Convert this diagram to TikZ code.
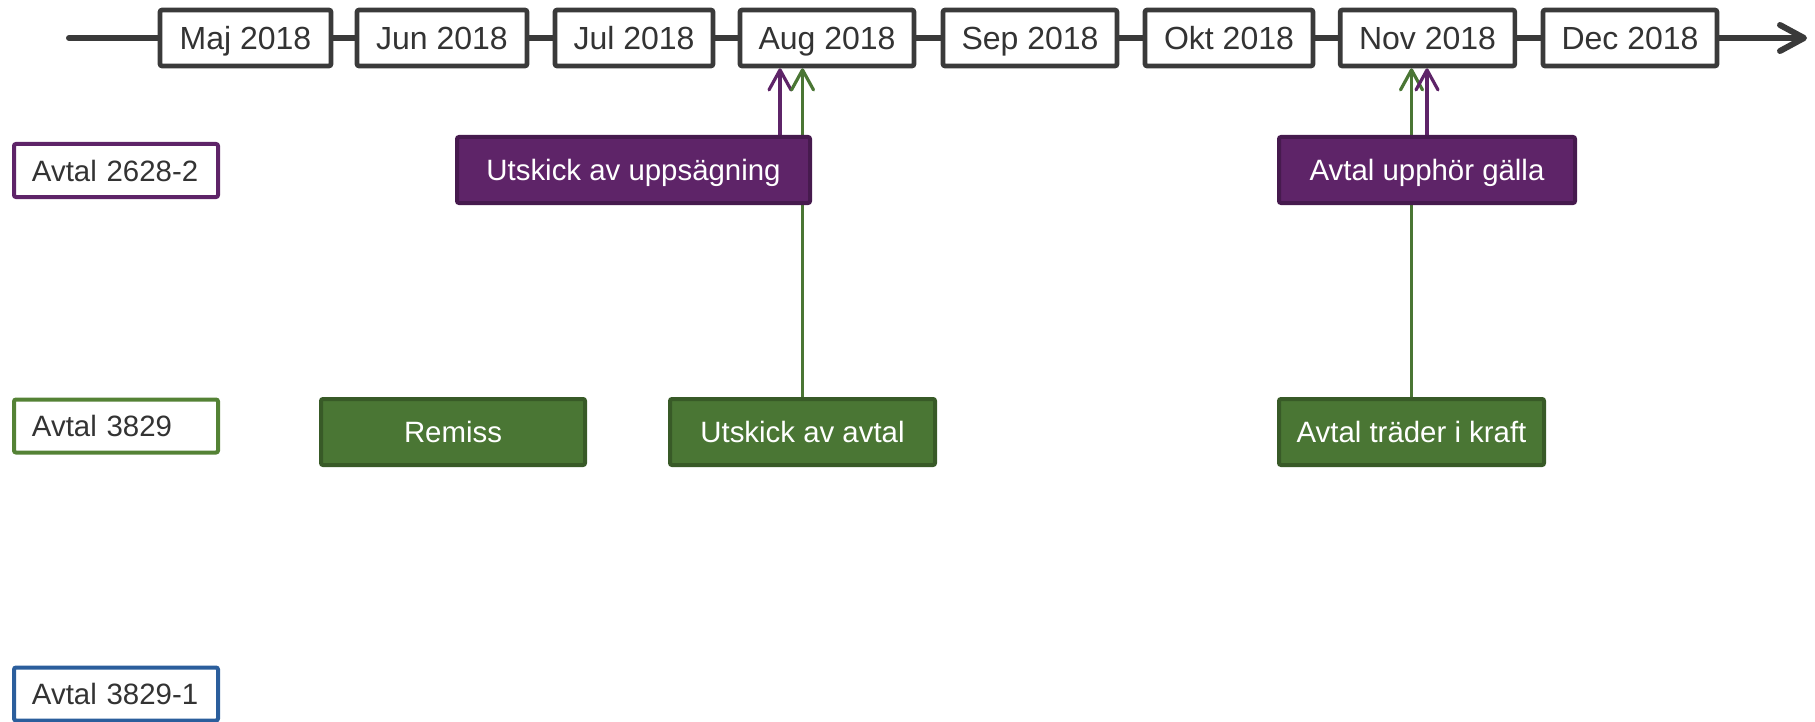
\documentclass[tikz,border=0pt]{standalone}
\usepackage{fontspec}
\setmainfont{Liberation Sans}
\usetikzlibrary{arrows.meta,backgrounds}

\definecolor{tlgray}{HTML}{3A3A3A}
\definecolor{txtgray}{HTML}{333333}
\definecolor{avpurple}{HTML}{5E2468}
\definecolor{avpurpledk}{HTML}{461A4E}
\definecolor{avgreen}{HTML}{4A7634}
\definecolor{avgreendk}{HTML}{385A27}
\definecolor{avgreenlt}{HTML}{548235}
\definecolor{avblue}{HTML}{2B5E9C}

\tikzset{
    tline/.style={draw=tlgray, line width=3pt, line cap=round,
        -{Straight Barb[round, length=12pt, width=13pt]}},
    month/.style={draw=tlgray, fill=white, line width=2.3pt, rounded corners=1pt,
        minimum height=28pt, inner sep=0pt, text=txtgray,
        text height=11.5pt, text depth=0pt,
        font=\fontsize{16pt}{19pt}\selectfont},
    rowlabel/.style={draw=#1, fill=white, line width=2pt, rounded corners=1pt,
        text width=84pt, inner xsep=9pt, inner ysep=0pt, minimum height=26.5pt,
        text height=10.5pt, text depth=0pt,
        align=left, text=txtgray, font=\fontsize{14.7pt}{17pt}\selectfont},
    event/.style={draw=#1dk, fill=#1, line width=2pt, rounded corners=1pt,
        minimum height=33pt, inner sep=0pt, text=white,
        text height=10.5pt, text depth=0pt,
        font=\fontsize{14.7pt}{17pt}\selectfont},
    evarrow/.style={draw=#1, line width=1.6pt,
        -{Straight Barb[round, length=10pt, width=11pt]}}
}

\begin{document}
\begin{tikzpicture}[x=0.5pt, y=-0.5pt]
    \useasboundingbox (0,0) rectangle (1815,722);
    % tidslinje
    \coordinate (tlstart) at (69,38);
    \coordinate (tlend) at (1807,38);
    \draw[tline] (tlstart) -- (tlend);
    \foreach \m/\lbl/\cx/\w in {maj/Maj/245.5/85.5pt, jun/Jun/442/85pt,
        jul/Jul/634/79pt, aug/Aug/827/87pt, sep/Sep/1030/87pt,
        okt/Okt/1229/84pt, nov/Nov/1427.5/87.3pt, dec/Dec/1630/87pt}
        \node[month, minimum width=\w] (\m) at (\cx,38) {\lbl\ 2018};

    % avtal
    \node[rowlabel=avpurple] (a2628) at (116,170.5) {Avtal 2628-2};
    \node[rowlabel=avgreenlt] (a3829) at (116,426) {Avtal 3829};
    \node[rowlabel=avblue] (a38291) at (116,694) {Avtal 3829-1};

    % händelser
    \node[event=avpurple, minimum width=176.5pt] (uppsag) at (633.5,170) {Utskick av uppsägning};
    \node[event=avpurple, minimum width=148pt] (upphor) at (1427,170) {Avtal upphör gälla};
    \node[event=avgreen, minimum width=132pt] (remiss) at (453,432) {Remiss};
    \node[event=avgreen, minimum width=132.5pt] (utavtal) at (802.5,432) {Utskick av avtal};
    \node[event=avgreen, minimum width=132.5pt] (trader) at (1411.5,432) {Avtal träder i kraft};

    \begin{scope}[on background layer]
        \coordinate (augp) at ([xshift=-23.5pt]aug.south);
        \draw[evarrow=avpurple] (augp |- uppsag.north) -- (augp);
        \draw[evarrow=avgreen] (utavtal.north) -- (utavtal.north |- aug.south);
        \draw[evarrow=avgreen] (trader.north) -- (trader.north |- nov.south);
        \draw[evarrow=avpurple] (upphor.north) -- (upphor.north |- nov.south);
    \end{scope}
\end{tikzpicture}
\end{document}
